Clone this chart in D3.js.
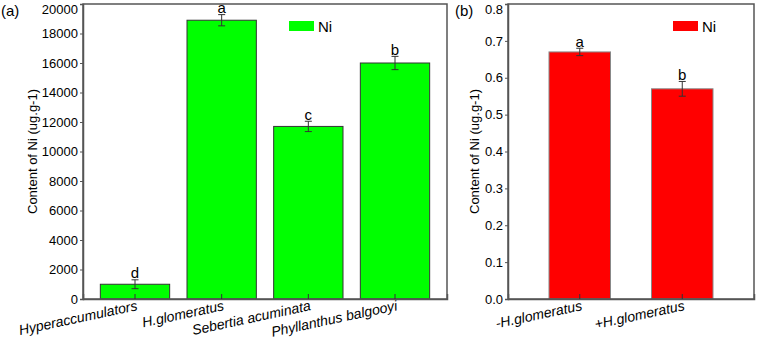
<!DOCTYPE html>
<html>
<head>
<meta charset="utf-8">
<script src="https://cdn.jsdelivr.net/npm/d3@7"></script>
<style>
  body { margin: 0; background: #fff; }
  svg text { font-family: "Liberation Sans", Arial, sans-serif; fill: #000; }
</style>
</head>
<body>
<svg id="chart" width="757" height="343"></svg>
<script>
// panel (a)
var catsA = ["Hyperaccumulators", "H.glomeratus", "Sebertia acuminata", "Phyllanthus balgooyi"];
var valsA = [1000, 18900, 11700, 16000];
var errA = [300, 380, 350, 450];
var letA = ["d", "a", "c", "b"];
var ticksA = [0, 2000, 4000, 6000, 8000, 10000, 12000, 14000, 16000, 18000, 20000];

// panel (b)
var catsB = ["-H.glomeratus", "+H.glomeratus"];
var valsB = [0.67, 0.57];
var errB = [0.01, 0.02];
var letB = ["a", "b"];
var ticksB = [0, 0.1, 0.2, 0.3, 0.4, 0.5, 0.6, 0.7, 0.8];

var svg = d3.select("#chart");

function panel(opt) {
    var g = svg.append("g");
    var x = d3.scaleBand().domain(opt.cats).range([opt.left, opt.right]).padding(opt.pad);
    var y = d3.scaleLinear().domain(opt.domain).range([opt.bottom, opt.top]);
    var cx = function (i) { return x(opt.cats[i]) + x.bandwidth() / 2; };

    // bars
    g.selectAll(".bar")
        .data(opt.vals)
        .enter().append("rect")
        .attr("x", function (d, i) { return x(opt.cats[i]); })
        .attr("width", x.bandwidth())
        .attr("y", function (d) { return y(d); })
        .attr("height", function (d) { return y(0) - y(d); })
        .attr("fill", opt.color)
        .attr("stroke", opt.stroke)
        .attr("stroke-width", 1);

    // error bars
    var eb = g.selectAll(".err").data(opt.vals).enter().append("g")
        .attr("stroke", "#333").attr("stroke-width", 1);
    eb.append("line")
        .attr("x1", function (d, i) { return cx(i); })
        .attr("x2", function (d, i) { return cx(i); })
        .attr("y1", function (d, i) { return y(d + opt.err[i]); })
        .attr("y2", function (d, i) { return y(d - opt.err[i]); });
    [1, -1].forEach(function (s) {
        eb.append("line")
            .attr("x1", function (d, i) { return cx(i) - 3.5; })
            .attr("x2", function (d, i) { return cx(i) + 3.5; })
            .attr("y1", function (d, i) { return y(d + s * opt.err[i]); })
            .attr("y2", function (d, i) { return y(d + s * opt.err[i]); });
    });

    // significance letters
    g.selectAll(".let").data(opt.vals).enter().append("text")
        .attr("x", function (d, i) { return cx(i); })
        .attr("y", function (d, i) { return y(d + opt.err[i]) - 1.5; })
        .attr("text-anchor", "middle")
        .style("font-size", "15px")
        .text(function (d, i) { return opt.lets[i]; });

    // frame
    g.append("rect")
        .attr("x", opt.left).attr("y", opt.top)
        .attr("width", opt.right - opt.left).attr("height", opt.bottom - opt.top)
        .attr("fill", "none").attr("stroke", "#555").attr("stroke-width", 1.5);

    // y axis
    var ya = g.append("g")
        .attr("transform", "translate(" + opt.left + ",0)")
        .call(d3.axisLeft(y).tickValues(opt.ticks).tickFormat(opt.fmt).tickSize(3).tickPadding(2));
    ya.select(".domain").attr("stroke", "#555").attr("stroke-width", 1.5);
    ya.selectAll(".tick line").attr("stroke", "#555");
    ya.selectAll("text")
        .style("font-size", "13px")
        .style("font-family", "Liberation Sans, Arial, sans-serif")
        .attr("dy", function (d) { return d === opt.domain[1] ? "0.75em" : "0.32em"; });

    // x axis, ticks inward, no default labels
    var xa = g.append("g")
        .attr("transform", "translate(0," + opt.bottom + ")")
        .call(d3.axisBottom(x).tickSize(-5).tickFormat(""));
    xa.select(".domain").attr("stroke", "#555").attr("stroke-width", 1.5);
    xa.selectAll(".tick line").attr("stroke", "#333");

    // rotated category labels
    g.selectAll(".xlab").data(opt.cats).enter().append("text")
        .attr("text-anchor", "end")
        .attr("transform", function (d, i) {
            return "translate(" + (cx(i) + 3) + "," + (opt.bottom + 11) + ") rotate(-12)";
        })
        .style("font-size", "14px")
        .style("font-style", "italic")
        .text(function (d) { return d; });

    // y label
    g.append("text")
        .attr("transform", "translate(" + opt.ylabX + "," + ((opt.top + opt.bottom) / 2) + ") rotate(-90)")
        .attr("text-anchor", "middle")
        .style("font-size", "13px")
        .text("Content of Ni (ug.g-1)");

    // panel label
    g.append("text")
        .attr("x", opt.tagX).attr("y", 16)
        .style("font-size", "15px")
        .text(opt.tag);

    // legend
    g.append("rect")
        .attr("x", opt.legX).attr("y", 21).attr("width", 25).attr("height", 10)
        .attr("fill", opt.color);
    g.append("text")
        .attr("x", opt.legX + 29).attr("y", 32)
        .style("font-size", "15px")
        .text("Ni");
}

panel({
    cats: catsA, vals: valsA, err: errA, lets: letA, ticks: ticksA,
    domain: [0, 20000], fmt: d3.format("d"),
    left: 83, right: 447, top: 4, bottom: 299, pad: 0.2,
    color: "#00ff00", stroke: "#333",
    ylabX: 37, tag: "(a)", tagX: 1, legX: 289
});

panel({
    cats: catsB, vals: valsB, err: errB, lets: letB, ticks: ticksB,
    domain: [0, 0.8], fmt: d3.format(".1f"),
    left: 508, right: 754, top: 4, bottom: 299, pad: 0.4,
    color: "#ff0000", stroke: "#888",
    ylabX: 479, tag: "(b)", tagX: 455, legX: 673
});
</script>
</body>
</html>
